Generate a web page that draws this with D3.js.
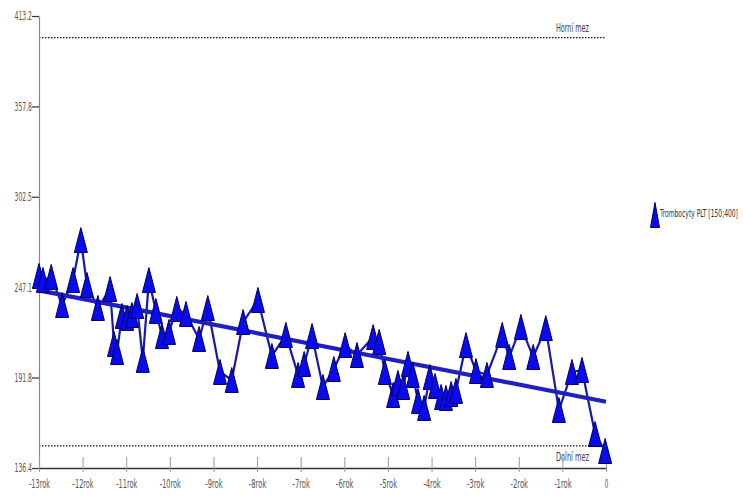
<!DOCTYPE html>
<html><head><meta charset="utf-8">
<script src="https://cdn.jsdelivr.net/npm/d3@7"></script>
<style>
html,body{margin:0;padding:0;background:#fff;}
svg{display:block;}
text{font-family:"Liberation Sans Narrow","DejaVu Sans Condensed","Liberation Sans",sans-serif;}
</style></head>
<body>
<svg id="c" width="743" height="498"></svg>
<script>
// ---- data ----
const years = [-13.0,-12.91,-12.72,-12.47,-12.22,-12.04,-11.9,-11.65,-11.37,-11.28,
  -11.21,-11.1,-10.98,-10.87,-10.75,-10.62,-10.48,-10.32,-10.18,-10.02,
  -9.84,-9.63,-9.33,-9.13,-8.85,-8.58,-8.32,-7.98,-7.66,-7.34,
  -7.06,-6.92,-6.74,-6.49,-6.24,-5.98,-5.71,-5.34,-5.2,-5.07,
  -4.88,-4.77,-4.65,-4.54,-4.43,-4.31,-4.17,-4.04,-3.92,-3.78,
  -3.67,-3.55,-3.44,-3.21,-2.98,-2.73,-2.38,-2.22,-1.95,-1.67,
  -1.38,-1.08,-0.78,-0.55,-0.25,-0.02];
const plt = [254.0,251.5,253.4,236.2,251.5,276.0,248.5,234.4,246.0,212.3,
  207.4,229.5,228.3,230.1,235.6,202.6,251.5,232.6,217.2,219.7,
  233.8,230.7,215.4,234.4,195.2,190.3,225.8,239.3,205.0,217.9,
  193.4,200.1,217.2,186.0,197.0,211.7,205.6,216.6,213.6,195.2,
  181.1,188.5,186.0,200.1,193.4,177.4,173.2,192.1,186.6,179.9,
  179.3,181.7,183.6,211.7,195.8,193.4,217.9,204.4,222.8,204.4,
  222.1,171.9,195.2,196.4,157.2,146.8];
const trendYears = [-13, 0];
const trendValues = [245.2, 177.0];
const limitLabels = ["Horní mez", "Dolní mez"];
const limitValues = [400, 150];
const yTicks = [136.4,191.8,247.1,302.5,357.8,413.2];
const xTicks = [-13,-12,-11,-10,-9,-8,-7,-6,-5,-4,-3,-2,-1,0];
const xTickLabels = ["-13rok","-12rok","-11rok","-10rok","-9rok","-8rok","-7rok","-6rok","-5rok","-4rok","-3rok","-2rok","-1rok","0"];
const seriesName = "Trombocyty PLT [150;400]";

// ---- layout ----
const svg = d3.select("#c");
const x = d3.scaleLinear().domain([-13,0]).range([39,606]);
const y = d3.scaleLinear().domain([136.4,413.2]).range([468,16]);
const CH = 3.5; // condensed char width
const FONT = '"Liberation Sans Narrow","DejaVu Sans Condensed",sans-serif';

// limit lines
limitValues.forEach((v,i)=>{
  svg.append("line").attr("x1",x(-13)).attr("x2",x(0))
    .attr("y1",y(v)).attr("y2",y(v))
    .attr("stroke","#111").attr("stroke-width",1.2).attr("stroke-dasharray","1.5,1.5");
  svg.append("text").attr("x",589).attr("text-anchor","end")
    .attr("y", y(v) + (i===0 ? -6 : 15))
    .attr("font-size",11.5).attr("fill","#3a3a5a")
    .attr("textLength",33).attr("lengthAdjust","spacingAndGlyphs").text(limitLabels[i]);
});

// axes
const yAxis = d3.axisLeft(y).tickValues(yTicks).tickFormat(d=>d.toFixed(1)).tickSizeInner(7).tickSizeOuter(0);
const gy = svg.append("g").attr("transform",`translate(${x(-13)},0)`).call(yAxis);
gy.select(".domain").attr("stroke","#888").attr("stroke-width",1.2);
gy.selectAll(".tick line").attr("stroke","#333").attr("stroke-width",1.2);
gy.selectAll(".tick text").attr("fill","#555").attr("font-size",12).attr("x",-7)
  .attr("font-family",FONT)
  .attr("textLength",d=>d.toFixed(1).length*CH).attr("lengthAdjust","spacingAndGlyphs");

const xAxis = d3.axisBottom(x).tickValues(xTicks).tickFormat((d,i)=>xTickLabels[i]).tickSizeInner(4).tickSizeOuter(0);
const gx = svg.append("g").attr("transform",`translate(0,${y(136.4)})`).call(xAxis);
gx.select(".domain").attr("stroke","#333").attr("stroke-width",1.5);
gx.selectAll(".tick line").attr("stroke","#999").attr("y1",-11).attr("y2",4);
gx.selectAll(".tick text").attr("fill","#555").attr("font-size",12).attr("y",11)
  .attr("font-family",FONT)
  .attr("textLength",(d,i)=>xTickLabels[i].length*CH).attr("lengthAdjust","spacingAndGlyphs");

// data line
const pts = years.map((t,i)=>({t, v:plt[i]}));
const line = d3.line().x(d=>x(d.t)).y(d=>y(d.v));
svg.append("path").datum(pts).attr("d",line).attr("fill","none")
  .attr("stroke","#1818b0").attr("stroke-width",2.2).attr("stroke-linejoin","round");

// trend line
const tr = trendYears.map((t,i)=>({t, v:trendValues[i]}));
svg.append("path").datum(tr).attr("d",line).attr("fill","none")
  .attr("stroke","#1f1fc4").attr("stroke-width",4.2);

// markers
const W = 13, H = 25;
const tri = (cx,cy,w,h)=>`M${cx},${cy-h/2}L${cx+w/2},${cy+h/2}L${cx-w/2},${cy+h/2}Z`;
svg.append("g").selectAll("path").data(pts).join("path")
  .attr("d",d=>tri(x(d.t),y(d.v),W,H))
  .attr("fill","#0a0aee").attr("stroke","#00005a").attr("stroke-width",1);

// legend
svg.append("path").attr("d",tri(655,215,9,25)).attr("fill","#0a0aee").attr("stroke","#00005a").attr("stroke-width",1);
const lg = svg.append("text").attr("x",0).attr("y",0).attr("font-size",10).attr("fill","#333").text(seriesName);
const natural = lg.node().getComputedTextLength();
lg.attr("transform",`translate(660,217) scale(${78/natural},1)`);
</script>
</body></html>
